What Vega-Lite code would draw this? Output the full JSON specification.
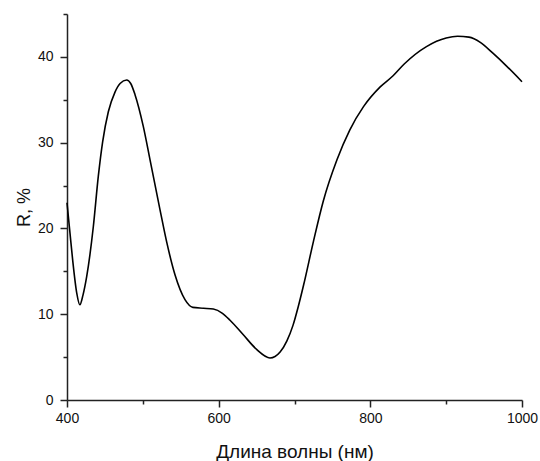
{
  "$schema": "https://vega.github.io/schema/vega-lite/v6.json",
  "autosize": "none",
  "width": 455,
  "height": 386,
  "padding": {"left": 67, "top": 14, "right": 18, "bottom": 61},
  "background": "white",
  "config": {
    "view": {"stroke": null},
    "font": "Liberation Sans",
    "axis": {"grid": false, "domainColor": "#222", "tickColor": "#222", "domainWidth": 1.5, "tickWidth": 1.5, "labelColor": "#111", "titleColor": "#111", "labelFont": "Liberation Sans", "titleFont": "Liberation Sans", "labelFontSize": 14, "titleFontSize": 18, "titleFontWeight": "normal"}
  },
  "data": {"values": [
    {"wl": 400, "R": 23.0},
    {"wl": 404, "R": 19.4},
    {"wl": 407.5, "R": 16.3},
    {"wl": 412.8, "R": 12.5},
    {"wl": 417, "R": 11.1},
    {"wl": 421, "R": 12.2},
    {"wl": 426, "R": 14.4},
    {"wl": 434.7, "R": 20.2},
    {"wl": 441.3, "R": 26.1},
    {"wl": 447, "R": 30.1},
    {"wl": 454.5, "R": 33.6},
    {"wl": 463.3, "R": 35.9},
    {"wl": 470, "R": 36.9},
    {"wl": 478.7, "R": 37.3},
    {"wl": 484, "R": 36.9},
    {"wl": 489.7, "R": 35.6},
    {"wl": 500.6, "R": 31.9},
    {"wl": 509.5, "R": 28.0},
    {"wl": 522.6, "R": 22.2},
    {"wl": 531.5, "R": 18.4},
    {"wl": 542.4, "R": 14.6},
    {"wl": 555.6, "R": 11.7},
    {"wl": 566, "R": 10.8},
    {"wl": 580, "R": 10.7},
    {"wl": 593, "R": 10.6},
    {"wl": 605, "R": 10.1},
    {"wl": 615, "R": 9.3},
    {"wl": 632.5, "R": 7.6},
    {"wl": 650, "R": 5.9},
    {"wl": 667.7, "R": 4.9},
    {"wl": 681, "R": 5.6},
    {"wl": 690, "R": 6.9},
    {"wl": 698, "R": 8.7},
    {"wl": 705, "R": 10.9},
    {"wl": 712, "R": 13.4},
    {"wl": 725, "R": 18.5},
    {"wl": 738, "R": 23.2},
    {"wl": 756, "R": 28.0},
    {"wl": 773, "R": 31.5},
    {"wl": 791, "R": 34.2},
    {"wl": 813, "R": 36.5},
    {"wl": 830, "R": 37.8},
    {"wl": 845, "R": 39.2},
    {"wl": 874, "R": 41.2},
    {"wl": 900, "R": 42.2},
    {"wl": 915, "R": 42.4},
    {"wl": 930, "R": 42.3},
    {"wl": 945, "R": 41.7},
    {"wl": 962, "R": 40.4},
    {"wl": 980, "R": 38.9},
    {"wl": 1000, "R": 37.1}
  ]},
  "mark": {"type": "line", "color": "#000", "strokeWidth": 1.6, "interpolate": "monotone"},
  "encoding": {
    "x": {"field": "wl", "type": "quantitative", "scale": {"domain": [400, 1000], "nice": false, "zero": false},
      "axis": {"title": "Длина волны (нм)", "titleFontSize": 19, "format": "d", "values": [400, 500, 600, 700, 800, 900, 1000],
        "labelExpr": "datum.value % 200 === 0 ? datum.label : ''",
        "tickSize": {"condition": {"test": "datum.value % 200 === 0", "value": 7}, "value": 4},
        "labelPadding": 4, "titlePadding": 17, "labelFlush": false, "labelOverlap": false}},
    "y": {"field": "R", "type": "quantitative", "scale": {"domain": [0, 45], "nice": false},
      "axis": {"title": "R, %", "values": [0, 5, 10, 15, 20, 25, 30, 35, 40, 45],
        "labelExpr": "datum.value % 10 === 0 ? datum.label : ''",
        "tickSize": {"condition": {"test": "datum.value % 10 === 0", "value": 7}, "value": 4},
        "labelPadding": 7, "titlePadding": 4, "labelFlush": false, "labelOverlap": false}}
  }
}
